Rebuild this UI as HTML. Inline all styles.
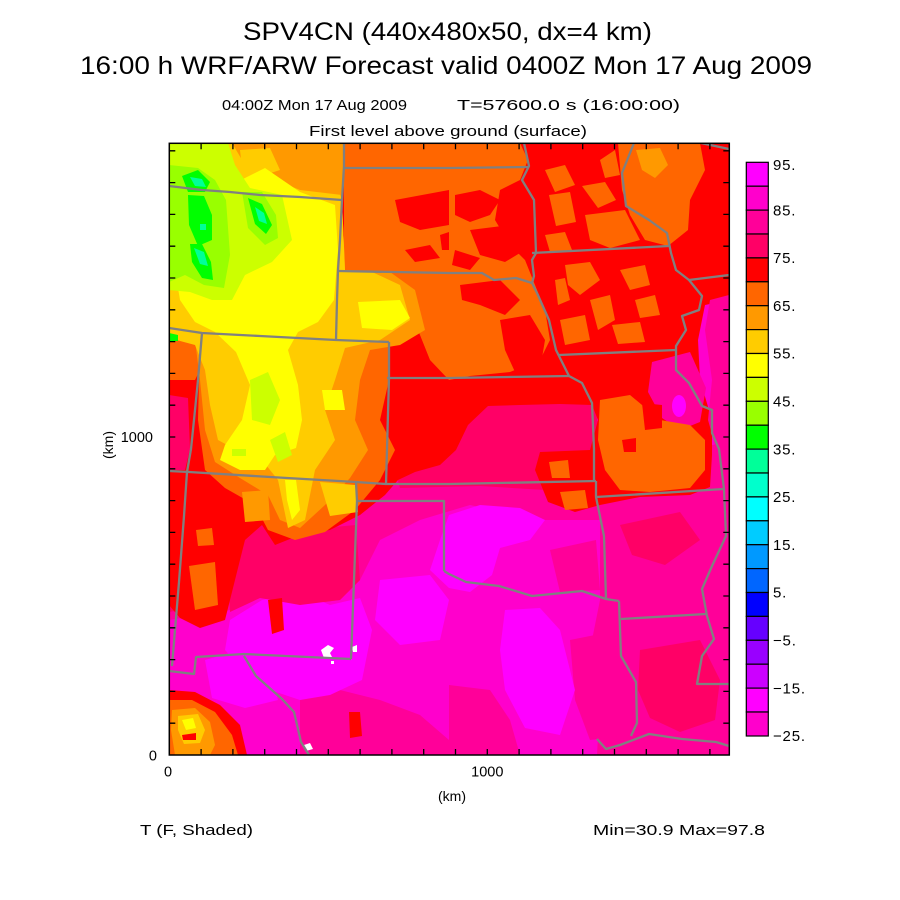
<!DOCTYPE html>
<html><head><meta charset="utf-8"><style>
html,body{margin:0;padding:0;background:#fff;}
svg{display:block;}
text{font-family:"Liberation Sans",sans-serif;fill:#000;}
</style></head><body>
<svg width="900" height="900" viewBox="0 0 900 900" xmlns="http://www.w3.org/2000/svg">
<rect width="900" height="900" fill="#fff"/>
<defs><clipPath id="c"><rect x="169.3" y="143.3" width="560" height="611.7"/></clipPath></defs>

<!-- Titles -->
<text x="243" y="40" font-size="25" textLength="409" lengthAdjust="spacingAndGlyphs">SPV4CN (440x480x50, dx=4 km)</text>
<text x="80" y="74" font-size="25" textLength="732" lengthAdjust="spacingAndGlyphs">16:00 h WRF/ARW Forecast valid 0400Z Mon 17 Aug 2009</text>
<text x="222" y="110" font-size="15" textLength="185" lengthAdjust="spacingAndGlyphs">04:00Z Mon 17 Aug 2009</text>
<text x="457" y="110" font-size="15" textLength="223" lengthAdjust="spacingAndGlyphs">T=57600.0 s (16:00:00)</text>
<text x="309" y="136" font-size="15" textLength="278" lengthAdjust="spacingAndGlyphs">First level above ground (surface)</text>

<g clip-path="url(#c)">
<rect x="169" y="143" width="561" height="613" fill="#ff00cc"/>
<!-- ff0099 -->
<g fill="#ff0099">
<polygon points="600,480 729,440 729,755 597,755 600,700 590,650 600,600 600,540"/>
<polygon points="169,465 600,470 600,520 540,520 470,505 420,520 380,540 360,580 340,600 300,605 260,595 230,610 169,620"/>
<polygon points="300,700 340,690 380,700 420,715 449,740 460,755 300,755"/>
<polygon points="449,685 490,690 510,720 520,755 449,755"/>
<polygon points="550,550 596,540 600,590 560,592"/>
<polygon points="570,640 620,630 636,690 630,735 590,740 575,700"/>
</g>
<!-- ff00ff -->
<g fill="#ff00ff">
<polygon points="230,620 262,600 300,592 330,605 360,598 372,630 362,680 330,695 300,700 270,690 245,672 225,650"/>
<polygon points="205,660 240,650 270,668 278,700 245,708 212,698"/>
<polygon points="449,515 480,505 520,508 545,520 530,540 500,548 492,575 470,592 449,588 430,570 440,540"/>
<polygon points="505,610 540,608 560,630 575,690 560,735 525,728 505,690 500,650"/>
<polygon points="380,580 430,575 449,600 440,640 400,645 375,620"/>
</g>
<!-- ff0066 -->
<g fill="#ff0066">
<polygon points="640,650 700,640 720,680 715,720 680,732 650,718 638,690"/>
<polygon points="620,525 680,512 700,540 665,565 632,555"/>
<polygon points="455,430 485,402 595,402 605,475 545,490 480,486 400,488 395,470 440,462"/>
<polygon points="169,465 245,472 262,520 245,562 210,605 169,612"/>
<polygon points="226,520 300,530 356,525 360,580 340,600 300,605 260,598 230,612"/>
</g>
<!-- red main -->
<polygon fill="#ff0000" points="169,143 729,143 729,300 705,305 698,340 700,380 712,420 712,455 710,487 690,495 640,497 600,505 575,512 548,502 535,470 540,452 590,450 598,420 592,405 560,404 520,405 488,406 468,425 456,450 440,465 415,472 398,480 385,495 360,515 330,530 300,535 275,545 262,525 245,540 235,580 225,620 200,628 180,618 169,605"/>
<polygon fill="#ff0000" points="268,600 282,598 284,630 272,634"/>
<polygon fill="#ff0000" points="349,712 360,712 362,736 350,738"/>
<!-- NE pinks -->
<polygon fill="#ff0099" points="710,300 729,295 729,448 716,448 708,420 712,380 705,330"/>
<polygon fill="#ff0099" points="652,362 690,352 706,388 700,422 680,430 662,418 648,392"/>
<ellipse fill="#ff00ff" cx="679" cy="406" rx="7" ry="11"/>
<!-- oranges ff6600 -->
<g fill="#ff6600">
<polygon points="344,143 520,143 528,160 520,180 500,190 495,220 510,245 525,260 535,285 545,310 550,340 540,360 510,372 470,376 449,380 430,360 420,335 405,300 390,275 344,272"/>
<polygon points="618,143 700,143 705,170 690,200 688,230 668,246 645,240 630,215 622,190"/>
<polygon points="600,400 630,395 660,420 690,425 705,440 705,470 690,488 650,492 620,490 605,470 598,440"/>
<polygon points="565,265 590,262 600,280 580,295 568,285"/>
<polygon points="590,300 610,295 615,320 598,330"/>
<polygon points="620,270 645,265 650,285 630,290"/>
<polygon points="585,215 625,210 640,240 610,248 590,240"/>
<polygon points="549,462 568,460 570,478 552,478"/>
<polygon points="560,492 585,490 588,508 565,510"/>
<polygon points="545,170 565,165 575,185 555,192"/>
<polygon points="560,320 585,315 590,340 565,345"/>
<polygon points="582,186 605,182 616,200 598,208"/>
<polygon points="549,195 570,192 576,222 556,226"/>
<polygon points="545,235 565,232 572,250 550,252"/>
<polygon points="600,160 615,150 620,175 605,178"/>
<polygon points="555,280 565,278 570,300 558,305"/>
<polygon points="612,325 640,322 645,342 618,344"/>
<polygon points="635,300 655,295 660,315 640,318"/>
<polygon points="169,330 200,335 205,360 195,380 169,380"/>
<polygon points="200,340 389,342 389,380 380,420 395,450 380,480 355,510 325,532 295,540 268,530 255,505 225,488 205,470 198,420"/>
<polygon points="189,566 215,562 218,605 195,610"/>
<polygon points="196,530 212,528 214,545 198,546"/>
</g>
<!-- red streaks over orange -->
<g fill="#ff0000">
<polygon points="455,195 480,190 500,200 490,215 470,222 455,215"/>
<polygon points="470,230 510,225 525,250 505,262 480,255"/>
<polygon points="455,250 480,258 470,270 452,265"/>
<polygon points="460,285 500,280 520,300 505,315 480,305 462,300"/>
<polygon points="500,320 530,315 545,340 540,370 515,372 505,350"/>
<polygon points="395,200 449,190 449,225 420,230 400,222"/>
<polygon points="405,250 430,245 440,258 415,262"/>
<polygon points="440,235 449,232 449,250 442,250"/>
<polygon points="642,403 662,405 662,428 645,430"/>
<polygon points="622,440 636,438 636,452 624,452"/>
</g>
<polygon fill="#ff0066" points="169,395 188,398 190,449 185,470 169,470"/>
<!-- NW -->
<polygon fill="#ff9900" points="169,143 344,143 342,200 345,270 390,272 415,290 425,330 400,345 370,350 360,380 355,420 368,450 350,478 325,505 300,528 280,520 268,495 240,478 215,462 205,430 200,380 195,340 169,335"/>
<polygon fill="#ff9900" points="636,150 660,148 668,165 655,178 642,170"/>
<polygon fill="#ffcc00" points="169,143 232,143 245,165 290,180 335,180 342,200 345,270 372,272 400,285 410,320 380,340 345,348 335,380 325,410 335,440 315,470 305,520 288,528 278,480 262,460 240,452 218,440 210,405 205,370 195,345 169,338"/>
<polygon fill="#ff9900" points="240,143 344,143 342,195 300,190 275,180 250,170"/>
<polygon fill="#ffcc00" points="240,150 270,148 280,170 255,178 242,168"/>
<polygon fill="#ffcc00" points="320,482 355,485 358,512 330,516"/>
<polygon fill="#ff9900" points="242,492 268,490 270,520 245,522"/>
<g fill="#ffff00">
<polygon points="185,195 225,188 265,168 300,192 335,205 338,250 334,300 318,322 298,332 288,350 298,385 302,420 296,448 275,455 265,470 240,470 220,460 225,445 242,420 250,385 236,352 215,332 195,322 180,300 175,270"/>
<polygon points="358,302 400,300 410,318 392,330 362,328"/>
<polygon points="322,390 342,390 345,410 325,410"/>
<polygon points="285,480 296,480 300,510 292,520 287,500"/>
</g>
<g fill="#ccff00">
<polygon points="169,143 228,143 235,165 250,188 282,195 292,240 272,262 245,275 232,300 212,300 190,292 169,290"/>
<polygon points="250,380 268,372 280,400 270,425 252,420"/>
<polygon points="270,440 285,432 292,455 278,462"/>
<polygon points="232,449 246,449 246,456 232,456"/>
</g>
<g fill="#99ff00">
<polygon points="169,165 198,168 215,180 226,200 230,255 224,288 204,285 185,275 169,282"/>
<polygon points="242,192 262,192 276,215 278,238 265,245 248,228"/>
</g>
<g fill="#00ff00">
<polygon points="182,176 198,170 210,182 205,192 188,192"/>
<polygon points="188,195 204,196 212,215 212,240 198,246 189,225"/>
<polygon points="190,244 202,244 211,262 213,280 202,278 192,262"/>
<polygon points="248,198 262,204 272,225 266,234 255,224"/>
<polygon points="169,333 178,335 178,341 169,341"/>
</g>
<g fill="#00ff99">
<polygon points="190,177 202,179 206,187 195,186"/>
<polygon points="194,248 204,252 208,266 200,264"/>
<polygon points="255,207 264,213 267,224 259,221"/>
<polygon points="200,224 206,224 206,230 200,230"/>
</g>
<!-- SW corner blob -->
<polygon fill="#ff0000" points="169,690 195,692 220,705 240,725 247,755 169,755"/>
<polygon fill="#ff6600" points="169,700 192,700 215,712 232,735 238,755 169,755"/>
<polygon fill="#ff9900" points="172,710 195,708 210,722 215,745 210,755 175,755 171,730"/>
<polygon fill="#ffcc00" points="178,716 198,714 205,730 200,743 184,744 178,730"/>
<polygon fill="#ffff00" points="182,720 193,718 196,728 186,730"/>
<polygon fill="#ff0000" points="182,735 196,733 196,740 183,740"/>
<!-- white -->
<g fill="#fff">
<polygon points="321,650 328,645 334,648 330,653 333,659 324,658"/>
<polygon points="352,647 357,645 357,652 353,652"/>
<polygon points="304,745 310,743 313,749 306,751"/>
<rect x="331" y="661" width="3" height="3"/>
</g>
<!-- boundaries -->
<g fill="none" stroke="#808080" stroke-width="2.3" stroke-linejoin="round">
<polyline points="169,186 202,190 230,192 260,195 300,197 342,200"/>
<polyline points="344,143 344,166 342,200 340,240 338,270 337,300 336,340"/>
<polyline points="344,168 449,168 529,167"/>
<polyline points="338,271 449,273 482,273 494,280 516,278 532,283 537,293 549,320 556,350 569,376 582,383 592,403 594,449 594,482"/>
<polyline points="169,328 202,333 260,336 336,340 389,342"/>
<polyline points="389,342 389,378 387,449 386,484"/>
<polyline points="387,378 449,378 569,376"/>
<polyline points="202,333 198,380 194,420 191,449 187,472 184,516 179,582 172,666"/>
<polyline points="169,471 189,472 270,477 356,482 386,484 449,484 596,481"/>
<polyline points="356,482 357,501 444,501 444,571"/>
<polyline points="357,501 354,580 351,659"/>
<polyline points="169,671 194,674 196,657 244,654 351,659"/>
<polyline points="244,656 256,676 282,699 294,712 301,742 309,755"/>
<polyline points="444,571 449,574 466,582 499,586 532,596 582,591 606,599 619,601"/>
<polyline points="596,481 596,497 604,536 606,599"/>
<polyline points="596,497 724,489"/>
<polyline points="619,601 621,656 636,682 637,723 631,736"/>
<polyline points="621,619 706,614"/>
<polyline points="597,739 606,749 620,745 649,734 682,739 716,742 729,746"/>
<polyline points="724,489 726,536 712,566 702,589 707,616 714,639 702,656 697,684 729,684"/>
<polyline points="524,143 529,166 522,180 534,200 536,253 532,260 534,276 532,283"/>
<polyline points="532,253 669,246"/>
<polyline points="559,355 676,350"/>
<polyline points="634,143 622,173 626,206 649,220 667,233 671,253 676,270 689,280 702,296 699,310 682,316 686,330 676,346 676,370 689,383 702,406 712,410 712,433 719,449 724,489"/>
<polyline points="689,280 729,275"/>
<polyline points="701,143 729,149"/>
</g>
</g>

<!-- frame and ticks -->
<rect x="169.3" y="143.3" width="560" height="611.7" fill="none" stroke="#000" stroke-width="1.5"/>
<path fill="none" stroke="#000" stroke-width="1.3" d="
M201.1 755v-6M232.9 755v-6M264.7 755v-6M296.5 755v-6M328.3 755v-6M360.1 755v-6M391.9 755v-6M423.7 755v-6M455.5 755v-6M487.3 755v-6M519.1 755v-6M550.9 755v-6M582.7 755v-6M614.5 755v-6M646.3 755v-6M678.1 755v-6M709.9 755v-6
M201.1 143.3v6M232.9 143.3v6M264.7 143.3v6M296.5 143.3v6M328.3 143.3v6M360.1 143.3v6M391.9 143.3v6M423.7 143.3v6M455.5 143.3v6M487.3 143.3v6M519.1 143.3v6M550.9 143.3v6M582.7 143.3v6M614.5 143.3v6M646.3 143.3v6M678.1 143.3v6M709.9 143.3v6
M169.3 723.2h6M169.3 691.4h6M169.3 659.6h6M169.3 627.8h6M169.3 596h6M169.3 564.2h6M169.3 532.4h6M169.3 500.6h6M169.3 468.8h6M169.3 437h6M169.3 405.2h6M169.3 373.4h6M169.3 341.6h6M169.3 309.8h6M169.3 278h6M169.3 246.2h6M169.3 214.4h6M169.3 182.6h6M169.3 150.8h6
M729.3 723.2h-6M729.3 691.4h-6M729.3 659.6h-6M729.3 627.8h-6M729.3 596h-6M729.3 564.2h-6M729.3 532.4h-6M729.3 500.6h-6M729.3 468.8h-6M729.3 437h-6M729.3 405.2h-6M729.3 373.4h-6M729.3 341.6h-6M729.3 309.8h-6M729.3 278h-6M729.3 246.2h-6M729.3 214.4h-6M729.3 182.6h-6M729.3 150.8h-6"/>

<!-- axis labels -->
<text x="153" y="442" font-size="14.5" text-anchor="end">1000</text>
<text x="157" y="760.5" font-size="14.5" text-anchor="end">0</text>
<text x="168" y="776.5" font-size="14.5" text-anchor="middle">0</text>
<text x="487.3" y="776.5" font-size="14.5" text-anchor="middle">1000</text>
<text x="452" y="801" font-size="14" text-anchor="middle">(km)</text>
<text transform="translate(113,445) rotate(-90)" font-size="14" text-anchor="middle">(km)</text>
<text x="140" y="835" font-size="15" textLength="113" lengthAdjust="spacingAndGlyphs">T (F, Shaded)</text>
<text x="593" y="835" font-size="15" textLength="172" lengthAdjust="spacingAndGlyphs">Min=30.9 Max=97.8</text>

<!-- colorbar -->
<g stroke="#000" stroke-width="1.2">
<rect x="746.3" y="162.3" width="22" height="23.9" fill="#ff00ff"/>
<rect x="746.3" y="186.2" width="22" height="23.9" fill="#ff00cc"/>
<rect x="746.3" y="210.1" width="22" height="23.9" fill="#ff0099"/>
<rect x="746.3" y="234.0" width="22" height="23.9" fill="#ff0066"/>
<rect x="746.3" y="257.9" width="22" height="23.9" fill="#ff0000"/>
<rect x="746.3" y="281.8" width="22" height="23.9" fill="#ff6600"/>
<rect x="746.3" y="305.7" width="22" height="23.9" fill="#ff9900"/>
<rect x="746.3" y="329.6" width="22" height="23.9" fill="#ffcc00"/>
<rect x="746.3" y="353.5" width="22" height="23.9" fill="#ffff00"/>
<rect x="746.3" y="377.4" width="22" height="23.9" fill="#ccff00"/>
<rect x="746.3" y="401.3" width="22" height="23.9" fill="#99ff00"/>
<rect x="746.3" y="425.2" width="22" height="23.9" fill="#00ff00"/>
<rect x="746.3" y="449.1" width="22" height="23.9" fill="#00ff99"/>
<rect x="746.3" y="473.0" width="22" height="23.9" fill="#00ffcc"/>
<rect x="746.3" y="496.9" width="22" height="23.9" fill="#00ffff"/>
<rect x="746.3" y="520.8" width="22" height="23.9" fill="#00ccff"/>
<rect x="746.3" y="544.7" width="22" height="23.9" fill="#0099ff"/>
<rect x="746.3" y="568.6" width="22" height="23.9" fill="#0066ff"/>
<rect x="746.3" y="592.5" width="22" height="23.9" fill="#0000ff"/>
<rect x="746.3" y="616.4" width="22" height="23.9" fill="#6600ff"/>
<rect x="746.3" y="640.3" width="22" height="23.9" fill="#9900ff"/>
<rect x="746.3" y="664.2" width="22" height="23.9" fill="#cc00ff"/>
<rect x="746.3" y="688.1" width="22" height="23.9" fill="#ff00ff"/>
<rect x="746.3" y="712.0" width="22" height="24" fill="#ff00cc"/>
</g>
<g font-size="15" letter-spacing="0.8">
<text x="773" y="170">95.</text>
<text x="773" y="215.3">85.</text>
<text x="773" y="263.1">75.</text>
<text x="773" y="310.9">65.</text>
<text x="773" y="358.7">55.</text>
<text x="773" y="406.5">45.</text>
<text x="773" y="454.3">35.</text>
<text x="773" y="502.1">25.</text>
<text x="773" y="549.9">15.</text>
<text x="773" y="597.7">5.</text>
<text x="773" y="645.5">−5.</text>
<text x="773" y="693.3">−15.</text>
<text x="773" y="741.2">−25.</text>
</g>
</svg>
</body></html>
